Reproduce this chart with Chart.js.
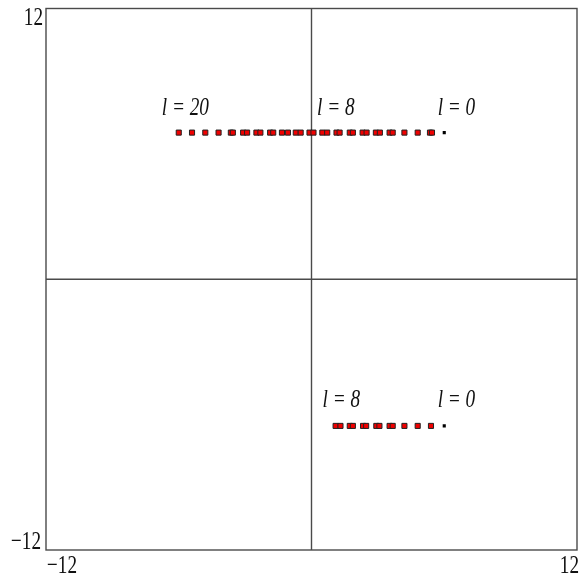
<!DOCTYPE html>
<html>
<head>
<meta charset="utf-8">
<script src="https://cdn.jsdelivr.net/npm/chart.js@4.4.0/dist/chart.umd.min.js"></script>
<style>
  html, body { margin: 0; padding: 0; background: #fff; }
  canvas { display: block; }
</style>
</head>
<body>
<canvas id="grafico" width="582" height="580"></canvas>
<script>
// valores
const axisMin = -12;
const axisMax = 12;
const tickLabels = ["-12", "12"];

// centros de cada l (l = 0 .. 20), linha de cima
const topY = 6.5;
const topCenters = [6.0, 5.4, 4.8, 4.2, 3.6, 3.0, 2.4, 1.8, 1.2, 0.6, 0.0, -0.6, -1.2, -1.8, -2.4, -3.0, -3.6, -4.2, -4.8, -5.4, -6.0];
// pontos vermelhos (alguns l tem dois valores quase iguais)
const topRed = [5.355, 5.445, 4.8, 4.2, 3.53, 3.67, 2.91, 3.09, 2.31, 2.49, 1.73, 1.87, 1.13, 1.27, 0.49, 0.71, -0.09, 0.09,
  -0.71, -0.49, -1.335, -1.065, -1.87, -1.73, -2.49, -2.31, -3.09, -2.91, -3.645, -3.555, -4.2, -4.8, -5.4, -6.0];

// linha de baixo (l = 0 .. 8)
const bottomY = -6.5;
const bottomCenters = [6.0, 5.4, 4.8, 4.2, 3.6, 3.0, 2.4, 1.8, 1.2];
const bottomRed = [5.4, 4.8, 4.2, 3.53, 3.67, 2.93, 3.07, 2.33, 2.47, 1.73, 1.87, 1.09, 1.31];

// rotulos "l = n"
const labelText = ["l = 20", "l = 8", "l = 0", "l = 8", "l = 0"];
const labelX = [-5.7, 1.1, 6.55, 1.35, 6.55];
const labelY = [7.6, 7.6, 7.6, -5.35, -5.35];

function pts(xs, y) {
  return xs.map(function (x) { return { x: x, y: y }; });
}

const blackPts = pts([topCenters[0]], topY).concat(pts([bottomCenters[0]], bottomY));
const redPts = pts(topRed, topY).concat(pts(bottomRed, bottomY));

const framePlugin = {
  id: "frame",
  beforeDatasetsDraw(chart) {
    const ctx = chart.ctx;
    const a = chart.chartArea;
    const x0 = chart.scales.x.getPixelForValue(0);
    const y0 = chart.scales.y.getPixelForValue(0);
    ctx.save();
    ctx.strokeStyle = "#4a4a4a";
    ctx.lineWidth = 1.4;
    ctx.strokeRect(a.left, a.top, a.right - a.left, a.bottom - a.top);
    ctx.beginPath();
    ctx.moveTo(x0, a.top);
    ctx.lineTo(x0, a.bottom);
    ctx.moveTo(a.left, y0);
    ctx.lineTo(a.right, y0);
    ctx.stroke();
    ctx.restore();
  },
  afterDatasetsDraw(chart) {
    const ctx = chart.ctx;
    const sx = chart.scales.x;
    const sy = chart.scales.y;
    const a = chart.chartArea;

    function txt(s, x, y, align, font) {
      ctx.save();
      ctx.translate(x, y);
      ctx.scale(0.74, 1);
      ctx.font = font;
      ctx.fillStyle = "#111";
      ctx.textAlign = align;
      ctx.textBaseline = "middle";
      ctx.fillText(s, 0, 0);
      ctx.restore();
    }

    // rotulos dos eixos (so os extremos)
    const tf = "26px 'Liberation Serif', 'DejaVu Serif', serif";
    txt(tickLabels[1].replace("-", "\u2212"), a.left - 3, sy.getPixelForValue(axisMax) + 10, "right", tf);
    txt(tickLabels[0].replace("-", "\u2212"), a.left - 5, sy.getPixelForValue(axisMin) - 8, "right", tf);
    txt(tickLabels[0].replace("-", "\u2212"), sx.getPixelForValue(axisMin) + 1, a.bottom + 16, "left", tf);
    txt(tickLabels[1].replace("-", "\u2212"), sx.getPixelForValue(axisMax) + 2, a.bottom + 16, "right", tf);

    const lf = "italic 26px 'Liberation Serif', 'DejaVu Serif', serif";
    labelText.forEach(function (s, i) {
      txt(s, sx.getPixelForValue(labelX[i]), sy.getPixelForValue(labelY[i]), "center", lf);
    });
  },
};

new Chart(document.getElementById("grafico"), {
  type: "scatter",
  data: {
    datasets: [
      {
        label: "l0",
        data: blackPts,
        pointStyle: "rect",
        pointRadius: 2.2,
        pointBackgroundColor: "#000",
        pointBorderColor: "#000",
        pointBorderWidth: 0,
      },
      {
        label: "red",
        data: redPts,
        pointStyle: "rect",
        pointRadius: 3.6,
        pointBackgroundColor: "rgb(240, 0, 0)",
        pointBorderColor: "#222",
        pointBorderWidth: 1,
      },
    ],
  },
  options: {
    responsive: false,
    animation: false,
    events: [],
    layout: {
      padding: { left: 46, right: 3.5, top: 8.5, bottom: 30 },
    },
    plugins: {
      legend: { display: false },
      tooltip: { enabled: false },
    },
    scales: {
      x: { type: "linear", min: axisMin, max: axisMax, display: false },
      y: { type: "linear", min: axisMin, max: axisMax, display: false },
    },
  },
  plugins: [framePlugin],
});
</script>
</body>
</html>
